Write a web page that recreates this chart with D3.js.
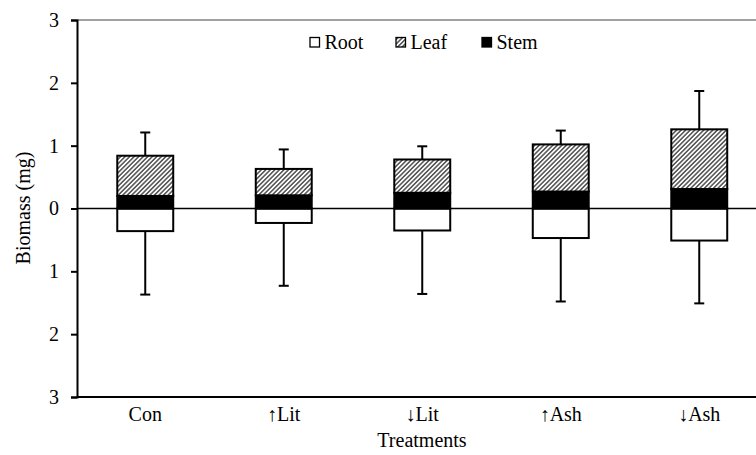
<!DOCTYPE html>
<html><head><meta charset="utf-8">
<script src="https://cdn.jsdelivr.net/npm/d3@7"></script>
<style>
html,body{margin:0;padding:0;background:#fff;}
svg text{font-family:'Liberation Serif','Times New Roman','DejaVu Serif',serif;}
</style></head>
<body><svg id="chart" width="756" height="455"></svg>
<script>
const categories = ["Con", "\u2191Lit", "\u2193Lit", "\u2191Ash", "\u2193Ash"];
const stemValues = [0.20, 0.21, 0.25, 0.27, 0.31];
const leafValues = [0.64, 0.42, 0.53, 0.75, 0.95];
const rootValues = [0.36, 0.23, 0.35, 0.47, 0.51];
const upperErr = [0.37, 0.31, 0.21, 0.22, 0.61];
const lowerErr = [1.01, 1.00, 1.01, 1.01, 1.00];
const yTicks = [-3, -2, -1, 0, 1, 2, 3];
const legendItems = ["Root", "Leaf", "Stem"];

(function(){
const FS = 20;
const svg = d3.select("#chart");
const defs = svg.append("defs");
const pat = defs.append("pattern").attr("id","hatch").attr("patternUnits","userSpaceOnUse")
  .attr("width",3.2).attr("height",3.2).attr("patternTransform","rotate(45)");
pat.append("rect").attr("width",3.2).attr("height",3.2).attr("fill","#fff");
pat.append("line").attr("x1",0.8).attr("y1",0).attr("x2",0.8).attr("y2",3.2)
  .attr("stroke","#333").attr("stroke-width",1.3);

const pLeft = 77, pRight = 756, pTop = 20, pBottom = 397;
const y = d3.scaleLinear().domain([-3,3]).range([pBottom, pTop]);
const x = d3.scaleBand().domain(categories).range([76, 768.5]).paddingInner(0.596).paddingOuter(0.298);

svg.append("line").attr("x1",pLeft).attr("x2",pRight).attr("y1",pTop).attr("y2",pTop)
  .attr("stroke","#444").attr("stroke-width",1.2);

const data = categories.map((c,i)=>({c, stem:stemValues[i], leaf:leafValues[i], root:rootValues[i], up:upperErr[i], lo:lowerErr[i]}));

const g = svg.append("g");
data.forEach(d=>{
  const cx = x(d.c) + x.bandwidth()/2;
  const tot = d.stem + d.leaf;
  g.append("line").attr("x1",cx).attr("x2",cx).attr("y1",y(tot)).attr("y2",y(tot+d.up)).attr("stroke","#000").attr("stroke-width",2);
  g.append("line").attr("x1",cx-5).attr("x2",cx+5).attr("y1",y(tot+d.up)).attr("y2",y(tot+d.up)).attr("stroke","#000").attr("stroke-width",2);
  g.append("line").attr("x1",cx).attr("x2",cx).attr("y1",y(-d.root)).attr("y2",y(-d.root-d.lo)).attr("stroke","#000").attr("stroke-width",2);
  g.append("line").attr("x1",cx-5).attr("x2",cx+5).attr("y1",y(-d.root-d.lo)).attr("y2",y(-d.root-d.lo)).attr("stroke","#000").attr("stroke-width",2);
});
g.selectAll(".root").data(data).join("rect").attr("class","root")
  .attr("x",d=>x(d.c)).attr("width",x.bandwidth())
  .attr("y",y(0)).attr("height",d=>y(-d.root)-y(0))
  .attr("fill","#fff").attr("stroke","#000").attr("stroke-width",2);
g.selectAll(".stem").data(data).join("rect").attr("class","stem")
  .attr("x",d=>x(d.c)).attr("width",x.bandwidth())
  .attr("y",d=>y(d.stem)).attr("height",d=>y(0)-y(d.stem))
  .attr("fill","#000").attr("stroke","#000").attr("stroke-width",2);
g.selectAll(".leaf").data(data).join("rect").attr("class","leaf")
  .attr("x",d=>x(d.c)).attr("width",x.bandwidth())
  .attr("y",d=>y(d.stem+d.leaf)).attr("height",d=>y(d.stem)-y(d.stem+d.leaf))
  .attr("fill","url(#hatch)").attr("stroke","#000").attr("stroke-width",2);

svg.append("line").attr("x1",pLeft).attr("x2",pRight).attr("y1",y(0)).attr("y2",y(0))
  .attr("stroke","#000").attr("stroke-width",1.3);
svg.append("line").attr("x1",pLeft).attr("x2",pRight).attr("y1",pBottom).attr("y2",pBottom)
  .attr("stroke","#000").attr("stroke-width",2);

const yAxis = d3.axisLeft(y).tickValues(yTicks).tickFormat(d=>Math.abs(d)).tickSize(6).tickPadding(12);
const ya = svg.append("g").attr("transform",`translate(${pLeft},0)`).call(yAxis);
ya.attr("font-family",null).attr("font-size",null);
ya.select(".domain").attr("stroke","#000").attr("stroke-width",2);
ya.selectAll(".tick line").attr("stroke","#000").attr("stroke-width",2);
ya.selectAll(".tick text").attr("font-size",FS).attr("fill","#000");

const xa = svg.append("g").attr("transform",`translate(0,${pBottom})`).call(d3.axisBottom(x).tickSize(0).tickPadding(10));
xa.attr("font-family",null).attr("font-size",null);
xa.select(".domain").remove();
xa.selectAll(".tick text").attr("font-size",FS).attr("fill","#000");

svg.append("text").attr("x",422).attr("y",447).attr("text-anchor","middle").attr("font-size",FS).text("Treatments");
svg.append("text").attr("transform","translate(30,208) rotate(-90)").attr("text-anchor","middle").attr("font-size",FS).text("Biomass (mg)");

const legX = [310, 396, 482];
const fills = ["#fff","url(#hatch)","#000"];
legendItems.forEach((t,i)=>{
  svg.append("rect").attr("x",legX[i]).attr("y",37.5).attr("width",9.5).attr("height",9.5)
    .attr("fill",fills[i]).attr("stroke","#000").attr("stroke-width",1.3);
  svg.append("text").attr("x",legX[i]+14.5).attr("y",48.5).attr("font-size",FS).text(t);
});
})();
</script></body></html>
